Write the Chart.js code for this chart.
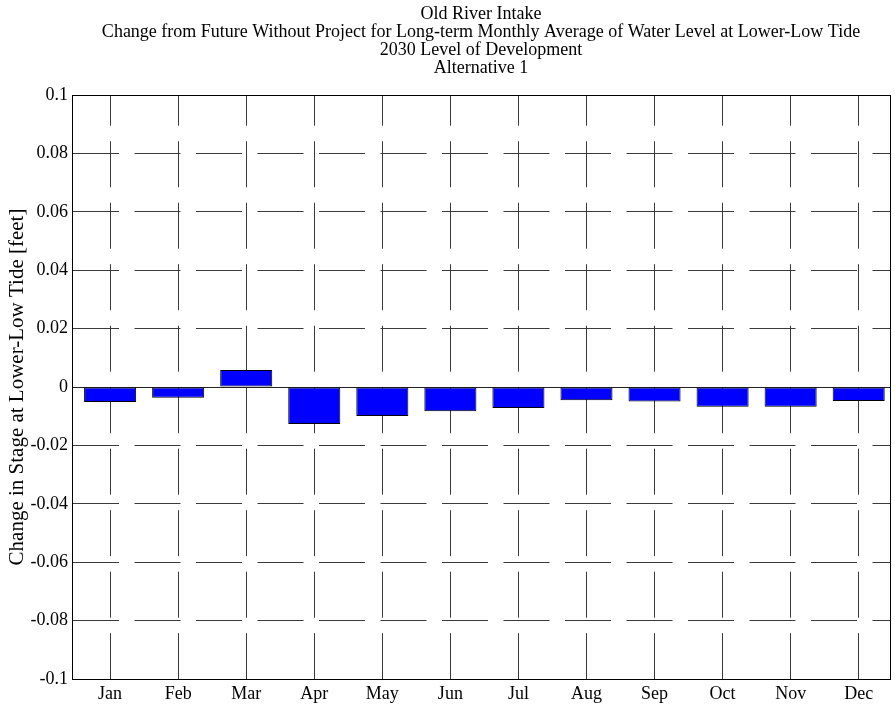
<!DOCTYPE html>
<html>
<head>
<meta charset="utf-8">
<title>Old River Intake</title>
<script src="https://cdn.jsdelivr.net/npm/chart.js@4.4.1/dist/chart.umd.min.js"></script>
<style>
  html, body { margin: 0; padding: 0; background: #fff; }
  #wrap { width: 895px; height: 713px; }
</style>
</head>
<body>
<div id="wrap"><canvas id="chart" width="895" height="713"></canvas></div>
<script>
// Chart data
const months = ['Jan', 'Feb', 'Mar', 'Apr', 'May', 'Jun', 'Jul', 'Aug', 'Sep', 'Oct', 'Nov', 'Dec'];
const monthPositions = [1, 2, 3, 4, 5, 6, 7, 8, 9, 10, 11, 12];
const changeValues = [-0.0051, -0.0037, 0.0058, -0.0127, -0.0099, -0.0083, -0.0072, -0.0045, -0.0050, -0.0068, -0.0068, -0.0048];
const yTicks = [-0.1, -0.08, -0.06, -0.04, -0.02, 0, 0.02, 0.04, 0.06, 0.08, 0.1];
const yTickLabels = ['-0.1', '-0.08', '-0.06', '-0.04', '-0.02', '0', '0.02', '0.04', '0.06', '0.08', '0.1'];
const titleLines = [
    'Old River Intake',
    'Change from Future Without Project for Long-term Monthly Average of Water Level at Lower-Low Tide',
    '2030 Level of Development',
    'Alternative 1'
];
const yAxisTitle = 'Change in Stage at Lower-Low Tide [feet]';

const serif = "'Liberation Serif', 'Times New Roman', Times, serif";
Chart.defaults.font.family = serif;
Chart.defaults.font.size = 18;
Chart.defaults.color = '#000';

const gridColor = '#3a3a3a';

// solid zero baseline + box frame around the plot
const framePlugin = {
    id: 'frame',
    beforeDatasetsDraw(chart) {
        const { ctx, chartArea, scales } = chart;
        const y0 = Math.round(scales.y.getPixelForValue(0)) + 0.5;
        ctx.save();
        ctx.strokeStyle = '#222';
        ctx.lineWidth = 1;
        ctx.beginPath();
        ctx.moveTo(chartArea.left, y0);
        ctx.lineTo(chartArea.right, y0);
        ctx.stroke();
        ctx.restore();
    },
    afterDraw(chart) {
        const { ctx, chartArea } = chart;
        const l = Math.round(chartArea.left) + 0.5, r = Math.round(chartArea.right) + 0.5;
        const t = Math.round(chartArea.top) + 0.5, b = Math.round(chartArea.bottom) + 0.5;
        ctx.save();
        ctx.setLineDash([]);
        ctx.strokeStyle = '#000';
        ctx.lineWidth = 1;
        ctx.strokeRect(l, t, r - l, b - t);
        ctx.restore();
    }
};

const ctx = document.getElementById('chart').getContext('2d');
new Chart(ctx, {
    type: 'bar',
    data: {
        datasets: [{
            data: monthPositions.map((x, i) => ({ x: x, y: changeValues[i] })),
            backgroundColor: '#0000ff',
            borderColor: '#000',
            borderWidth: 1,
            borderSkipped: false,
            barPercentage: 0.765,
            categoryPercentage: 1
        }]
    },
    options: {
        responsive: false,
        animation: false,
        layout: { padding: { left: 0, right: 5, top: 0, bottom: 0 } },
        plugins: {
            legend: { display: false },
            tooltip: { enabled: false },
            title: {
                display: true,
                fullSize: false,
                text: titleLines,
                color: '#000',
                font: { size: 18, weight: 'normal', lineHeight: 1.0 },
                padding: { top: 5, bottom: 18 }
            }
        },
        scales: {
            x: {
                type: 'linear',
                offset: false,
                min: 0.44,
                max: 12.46,
                afterBuildTicks: (scale) => { scale.ticks = monthPositions.map(v => ({ value: v })); },
                afterFit: (scale) => { scale.height = 34; },
                ticks: {
                    callback: (value) => months[value - 1],
                    autoSkip: false,
                    maxRotation: 0,
                    padding: 4
                },
                grid: { offset: false, color: gridColor, lineWidth: 1, drawTicks: false },
                border: { color: '#000', width: 1, dash: [46, 15.5], dashOffset: 15.3 }
            },
            y: {
                min: -0.1,
                max: 0.1,
                afterBuildTicks: (scale) => { scale.ticks = yTicks.map(v => ({ value: v })); },
                afterFit: (scale) => { scale.width = 72; },
                ticks: {
                    callback: (value, index) => yTickLabels[index],
                    padding: 4
                },
                title: {
                    display: true,
                    text: yAxisTitle,
                    color: '#000',
                    font: { size: 21 },
                    padding: { top: 5, bottom: 0 }
                },
                grid: { color: gridColor, lineWidth: 1, drawTicks: false },
                border: { color: '#000', width: 1, dash: [46, 15.5], dashOffset: 0 }
            }
        }
    },
    plugins: [framePlugin]
});
</script>
</body>
</html>
